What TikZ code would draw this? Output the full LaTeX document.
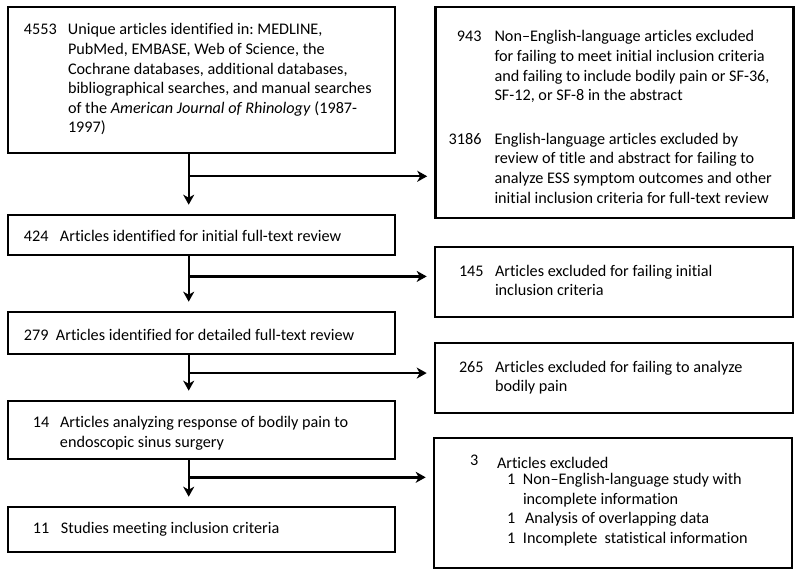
\documentclass[tikz,border=0pt]{standalone}
\usepackage{fontspec}
\setmainfont{Carlito}[Ligatures=NoCommon]
\usetikzlibrary{calc,arrows.meta}

% [raise] pad, number column, text column, rows
\newcommand{\entry}[5][-3pt]{\raisebox{#1}[\height][\depth]{%
  \begin{tabular}{@{\hspace{#2}}p{#3}@{}p{#4}@{}}#5\end{tabular}}}

\begin{document}
\begin{tikzpicture}[x=1pt,y=-1pt]

\pgfmathsetlengthmacro{\leftWidth}{387pt}
\pgfmathsetlengthmacro{\rightWidth}{358pt}
\pgfmathsetlengthmacro{\border}{2.6pt}
\pgfmathsetlengthmacro{\gapDown}{9pt}
\pgfmathsetlengthmacro{\gapSide}{7pt}
\tikzset{
  box/.style={draw, line width=\border, inner sep=0pt, font=\fontsize{16.2}{19.6}\selectfont\frenchspacing},
  leftbox/.style={box, minimum width=\leftWidth},
  rightbox/.style={box, minimum width=\rightWidth},
  flow/.style={-{Stealth[length=10pt,width=11pt,inset=3pt]}, line width=2.4pt},
}

\useasboundingbox (0,0) rectangle (800,572);

% left column
\node[leftbox, name=box1, minimum height=146pt] at (201.5,80) {%
  \entry[0pt]{15pt}{44pt}{326pt}{4553 & Unique articles identified in: MEDLINE,\newline
  PubMed, EMBASE, Web of Science, the\newline
  Cochrane databases, additional databases,\newline
  bibliographical searches, and\ manual searches\newline
  of the \textit{American\ Journal of Rhinology} (1987-\newline
  1997)}};
\node[leftbox, name=box424, minimum height=40pt] at (201.5,235) {%
  \entry{15pt}{36pt}{334pt}{424 & Articles identified for initial full-text review}};
\node[leftbox, name=box279, minimum height=42pt] at (201.5,333) {%
  \entry[-4pt]{15pt}{32pt}{338pt}{279 & Articles identified for detailed full-text review}};
\node[leftbox, name=box14, minimum height=58pt] at (201.5,430) {%
  \entry[-3.5pt]{24pt}{27pt}{334pt}{14 & Articles analyzing response of bodily pain to\newline
  endoscopic sinus surgery}};
\node[leftbox, name=box11, minimum height=45pt] at (201.5,529.5) {%
  \entry[0pt]{24pt}{28pt}{333pt}{11 & Studies meeting inclusion criteria}};

% right column
\node[rightbox, name=box2, minimum height=211pt] at (614.5,112.5) {%
  \entry[-6pt]{13pt}{45pt}{298pt}{\makebox[32pt][r]{943} & Non–English-language articles excluded\newline
  for failing to meet initial inclusion criteria\newline
  and failing to include bodily pain or SF-36,\newline
  SF-12, or SF-8 in the abstract\\[24pt]
  \makebox[32pt][r]{3186} & English-language articles excluded by\newline
  review of title and abstract for failing to\newline
  analyze ESS symptom outcomes and other\newline
  initial inclusion criteria for full-text review}};
\node[rightbox, name=box145, minimum height=70pt] at (614,282) {%
  \entry[0pt]{23pt}{36pt}{297pt}{145 & Articles excluded for failing initial\newline
  inclusion criteria}};
\node[rightbox, name=box265, minimum height=70pt] at (614,378) {%
  \entry[0pt]{23pt}{36pt}{297pt}{265 & Articles excluded for failing to analyze\newline
  bodily pain}};
\node[rightbox, name=box3, minimum height=130pt] at (613,503) {%
  \entry[-3.5pt]{35pt}{27pt}{294pt}{\raisebox{3pt}{3} & Articles excluded\\[-3.5pt]
  & \hspace*{10pt}\makebox[16pt][l]{1}Non–English-language study with\newline
  \hspace*{26pt}incomplete information\\
  & \hspace*{10pt}\makebox[16pt][l]{1}\hspace{2pt}Analysis of overlapping data\\
  & \hspace*{10pt}\makebox[16pt][l]{1}Incomplete\ \ statistical information\\[9pt]}};

% spine and branches
\coordinate (top1) at ($(box1.south west)+(182,0)$);
\coordinate (top2) at ($(box424.south west)+(182,0)$);
\coordinate (top3) at ($(box279.south west)+(182,0)$);
\coordinate (top4) at ($(box14.south west)+(182,0)$);
\coordinate (fork1) at ($(top1)!0.37!(top1 |- box424.north)$);
\coordinate (fork2) at ($(top2)!0.37!(top2 |- box279.north)$);
\coordinate (fork3) at ($(top3)!0.40!(top3 |- box14.north)$);
\coordinate (fork4) at ($(top4)!0.375!(top4 |- box11.north)$);

\draw[flow, shorten >=\gapDown] (top1) -- (top1 |- box424.north);
\draw[flow, shorten >=\gapDown] (top2) -- (top2 |- box279.north);
\draw[flow, shorten >=\gapDown] (top3) -- (top3 |- box14.north);
\draw[flow, shorten >=\gapDown] (top4) -- (top4 |- box11.north);

\draw[flow, shorten >=\gapSide] (fork1) -- (fork1 -| box2.west);
\draw[flow, shorten >=\gapSide] (fork2) -- (fork2 -| box145.west);
\draw[flow, shorten >=\gapSide] (fork3) -- (fork3 -| box265.west);
\draw[flow, shorten >=\gapSide] (fork4) -- (fork4 -| box3.west);

\end{tikzpicture}
\end{document}
